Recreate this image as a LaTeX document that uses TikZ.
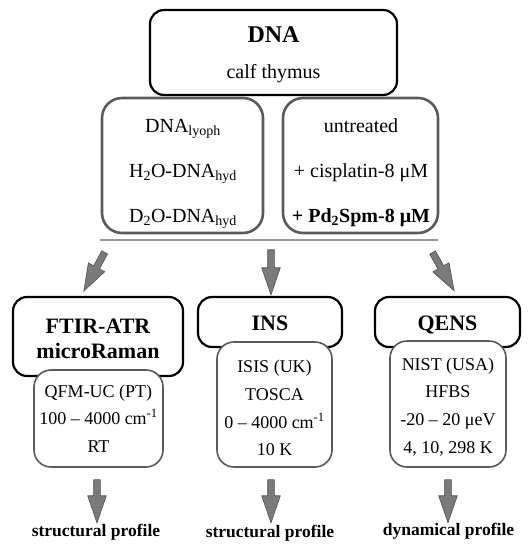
\documentclass[tikz,border=0pt]{standalone}
\usepackage{fontspec}
\setmainfont{Liberation Serif}
\usetikzlibrary{shapes.arrows}
\definecolor{boxgray}{HTML}{5A5A5A}
\definecolor{arrowfill}{HTML}{7A7A7A}
\definecolor{arrowedge}{HTML}{505050}
\definecolor{linegray}{HTML}{9A9A9A}
\begin{document}
\begin{tikzpicture}[x=1pt,y=-1pt,
  blkbox/.style={draw=black, line width=2.2pt, rounded corners=14pt, fill=white, inner sep=0pt},
  graybox/.style={draw=boxgray, line width=2.6pt, rounded corners=20pt, fill=white, inner sep=0pt},
  innerbox/.style={draw=boxgray, line width=1.6pt, rounded corners=17pt, fill=white, inner sep=0pt},
  txt/.style={anchor=base, inner sep=0pt, font=\fontsize{20}{24}\selectfont},
  big/.style={anchor=base, inner sep=0pt, font=\fontsize{24}{28}\selectfont\bfseries},
  head/.style={anchor=base, inner sep=0pt, font=\fontsize{22}{26}\selectfont\bfseries},
  small/.style={anchor=base, inner sep=0pt, font=\fontsize{18}{22}\selectfont},
  prof/.style={anchor=base, inner sep=0pt, font=\fontsize{17.5}{21}\selectfont\bfseries},
  barrow/.style={single arrow, draw=arrowedge, fill=arrowfill, line width=0.6pt,
    inner xsep=0pt, inner ysep=3pt, minimum width=0pt, single arrow head extend=6pt,
    single arrow tip angle=38, single arrow head indent=0pt, minimum height=45pt}
]
\useasboundingbox (0,0) rectangle (531,550);

% top box
\node[blkbox, minimum width=247pt, minimum height=85pt] (dna) at (273.5,52.5) {};
\node[big] (dnat) at (273.5,42) {DNA};
\node[txt] (calf) at (273.5,78) {calf thymus};

% gray boxes
\node[graybox, minimum width=161pt, minimum height=135pt] (g1) at (182.5,165.5) {};
\node[graybox, minimum width=155pt, minimum height=135pt] (g2) at (360.5,165.5) {};
\node[txt] (l1) at (183,132) {DNA\textsubscript{lyoph}};
\node[txt] (l2) at (183,177) {H\textsubscript{2}O-DNA\textsubscript{hyd}};
\node[txt] (l3) at (183,222) {D\textsubscript{2}O-DNA\textsubscript{hyd}};
\node[txt] (r1) at (361,132) {untreated};
\node[txt] (r2) at (361,177) {+ cisplatin-8 μM};
\node[txt] (r3) at (361,222) {\bfseries + Pd\textsubscript{2}Spm-8 μM};

% separator line
\coordinate (sepL) at (100,240);
\coordinate (sepR) at (438,240);
\draw[linegray, line width=2pt] (sepL) -- (sepR);

% top arrows
\node[barrow, rotate=-118.3, minimum height=44pt] (a1) at (96.5,267.5) {};
\node[barrow, rotate=-90] (a2) at (271,267.5) {};
\node[barrow, rotate=-60.6, minimum height=44pt] (a3) at (441,267.5) {};

% FTIR
\node[blkbox, minimum width=170pt, minimum height=79pt] (ftir) at (98,336.5) {};
\node[innerbox, minimum width=129pt, minimum height=97pt] (ftirin) at (98.5,418.5) {};
\node[head] (ft1) at (98,333) {FTIR-ATR};
\node[head] (ft2) at (98,358) {microRaman};
\node[small] (fi1) at (98.5,397) {QFM-UC (PT)};
\node[small] (fi2) at (98.5,424) {100 – 4000 cm\textsuperscript{-1}};
\node[small] (fi3) at (98.5,452) {RT};

% INS
\node[blkbox, minimum width=144pt, minimum height=50pt] (ins) at (270,322) {};
\node[innerbox, minimum width=115pt, minimum height=125pt] (insin) at (274.5,404.5) {};
\node[head] (in1) at (270,330) {INS};
\node[small] (ii1) at (274.5,372) {ISIS (UK)};
\node[small] (ii2) at (274.5,400) {TOSCA};
\node[small] (ii3) at (274.5,428) {0 – 4000 cm\textsuperscript{-1}};
\node[small] (ii4) at (274.5,455) {10 K};

% QENS
\node[blkbox, minimum width=145pt, minimum height=50pt] (qens) at (447.5,322) {};
\node[innerbox, minimum width=116pt, minimum height=126pt] (qensin) at (448,404) {};
\node[head] (qe1) at (447.5,330) {QENS};
\node[small] (qi1) at (448,370) {NIST (USA)};
\node[small] (qi2) at (448,397) {HFBS};
\node[small] (qi3) at (448,425) {-20 – 20 μeV};
\node[small] (qi4) at (448,453) {4, 10, 298 K};

% bottom arrows
\node[barrow, rotate=-90, minimum height=43pt] (b1) at (97,496.5) {};
\node[barrow, rotate=-90, minimum height=43pt] (b2) at (271,496.5) {};
\node[barrow, rotate=-90, minimum height=43pt] (b3) at (448,496.5) {};

\node[prof] (p1) at (96,536) {structural profile};
\node[prof] (p2) at (270,537) {structural profile};
\node[prof] (p3) at (448.5,535) {dynamical profile};
\end{tikzpicture}
\end{document}
